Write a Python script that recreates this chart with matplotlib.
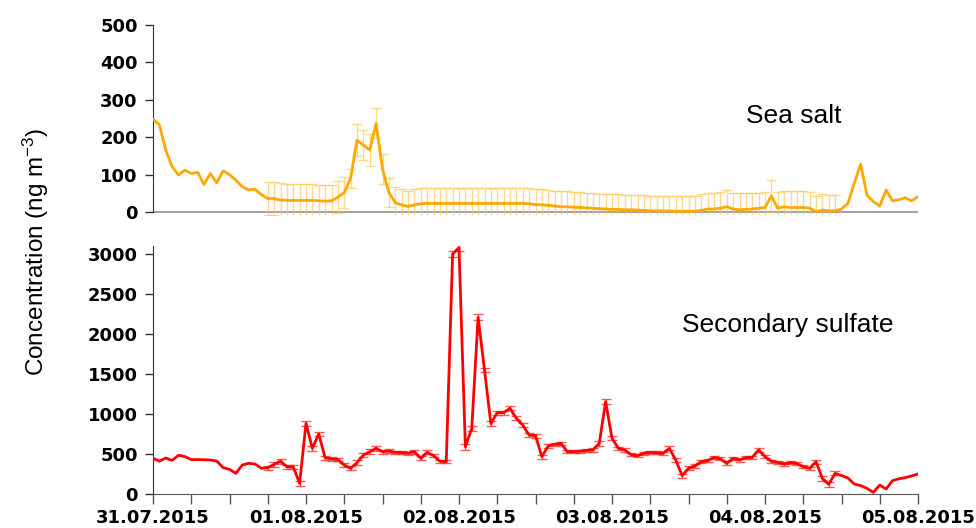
import matplotlib
matplotlib.use("Agg")
import matplotlib.pyplot as plt
import matplotlib.dates as mdates
import numpy as np
import pandas as pd

# hourly samples 31.07.2015 00:00 - 05.08.2015 00:00
startDate = "2015-07-31 00:00"
errStart = 18   # first hour with uncertainty values

# sea salt [ng m-3]
seaSalt = [248, 233, 166, 121, 99, 112, 103, 106, 74, 103,
           78, 110, 100, 85, 68, 59, 61, 46, 36, 36,
           32, 31, 31, 31, 31, 31, 30, 29, 30, 40,
           52, 90, 192, 179, 166, 237, 115, 52, 25, 19,
           15, 19, 22, 23, 23, 23, 23, 23, 23, 23,
           23, 23, 23, 23, 23, 23, 23, 23, 23, 22,
           20, 19, 18, 16, 14, 14, 13, 12, 11, 10,
           9, 8, 7, 7, 6, 6, 5, 4, 3, 3,
           3, 3, 2, 2, 2, 2, 4, 8, 8, 10,
           14, 8, 6, 7, 8, 10, 12, 43, 10, 14,
           12, 12, 12, 10, 1, 5, 3, 3, 8, 23,
           77, 128, 45, 28, 16, 59, 30, 33, 38, 30, 41]
seaSaltErr = [45, 45, 45, 44, 44, 44, 44, 44, 43, 43, 43, 42,
              42, 25, 42, 40, 42, 40, 40, 38, 42, 42,
              42, 42, 42, 42, 42, 42, 42, 42, 42, 42,
              42, 42, 42, 42, 42, 42, 42, 42, 42, 42,
              42, 42, 41, 41, 41, 41, 41, 41, 40, 40,
              40, 40, 40, 40, 40, 40, 40, 41, 41, 41,
              41, 41, 41, 42, 42, 42, 44, 44, 44, 44,
              44, 44, 44, 44, 42, 42, 42, 42, 43, 43,
              43, 43, 43, 43, 42, 42, 42, 42]

# secondary sulfate [ng m-3]
sulfate = [446, 410, 450, 420, 485, 467, 430, 430, 428, 425,
           412, 329, 308, 258, 362, 383, 375, 321, 329, 371,
           410, 340, 338, 133, 883, 571, 750, 454, 438, 430,
           362, 321, 392, 487, 529, 571, 529, 537, 521, 518,
           510, 529, 446, 521, 480, 410, 404, 3000, 3080, 590,
           820, 2210, 1550, 880, 1017, 1017, 1071, 946, 862, 737,
           729, 467, 600, 621, 633, 529, 529, 535, 545, 550,
           633, 1154, 696, 571, 550, 490, 479, 510, 521, 515,
           508, 571, 425, 229, 321, 350, 404, 417, 458, 440,
           383, 446, 425, 454, 458, 550, 467, 410, 395, 375,
           392, 380, 342, 321, 404, 196, 121, 258, 230, 200,
           125, 105, 70, 21, 112, 62, 167, 190, 205, 225, 250]
sulfateErr = [25, 30, 30, 25, 20, 30, 35, 30, 30, 25, 20, 20,
              25, 25, 30, 30, 30, 30, 25, 25, 20, 20,
              20, 25, 25, 25, 20, 20, 20, 40, 40, 35,
              35, 40, 30, 30, 25, 25, 25, 25, 30, 25,
              25, 25, 20, 20, 20, 20, 20, 20, 20, 25,
              30, 30, 25, 20, 20, 20, 20, 20, 20, 20,
              20, 25, 30, 25, 25, 20, 20, 20, 20, 20,
              25, 20, 20, 20, 20, 25, 20, 20, 20, 20,
              20, 20, 20, 20, 25, 30, 30, 25]

dayLabels = ["31.07.2015", "01.08.2015", "02.08.2015",
             "03.08.2015", "04.08.2015", "05.08.2015"]

tickFont = dict(family="DejaVu Sans", weight="bold", size=13)
textFont = dict(family="Liberation Sans", size=19)

plt.rcParams['mathtext.default'] = 'regular'

time = pd.date_range(startDate, periods=len(sulfate), freq="h")
days = pd.to_datetime(dayLabels, format="%d.%m.%Y")


def styleAxis(ax, ymax, ystep):
    ax.spines['top'].set_visible(False)
    ax.spines['right'].set_visible(False)
    ax.spines['left'].set_color('#333333')
    ax.spines['left'].set_bounds(0, ymax)
    ax.set_yticks(np.arange(0, ymax + 1, ystep))
    ax.tick_params(axis='y', direction='out', length=6, width=1,
                   color='#333333', pad=5)
    for lbl in ax.get_yticklabels():
        lbl.set_fontproperties(matplotlib.font_manager.FontProperties(**tickFont))
    ax.set_xlim(days[0], days[-1])


fig = plt.figure(figsize=(9.76, 5.28), dpi=100)
axTop = fig.add_axes([153 / 976, 1 - 215 / 528, 765 / 976, 190 / 528])
axBot = fig.add_axes([153 / 976, 1 - 494 / 528, 765 / 976, 248 / 528])

# --- sea salt
eT = time[errStart:errStart + len(seaSaltErr)]
axTop.errorbar(eT, seaSalt[errStart:errStart + len(seaSaltErr)], yerr=seaSaltErr,
               fmt='none', ecolor='#FFC34D', alpha=0.65, elinewidth=1,
               capsize=3.5, capthick=1, zorder=2)
axTop.plot(time, seaSalt, color='#FFA800', lw=2, zorder=3)
axTop.axhline(0, color='#9a9a9a', lw=1.3, zorder=1)
axTop.set_ylim(-8, 500)
styleAxis(axTop, 500, 100)
axTop.spines['bottom'].set_visible(False)
axTop.set_xticks([])
axTop.text(0.775, 0.484, "Sea salt", transform=axTop.transAxes,
           va='baseline', ha='left', **textFont)

# --- secondary sulfate
eT = time[errStart:errStart + len(sulfateErr)]
axBot.errorbar(eT, sulfate[errStart:errStart + len(sulfateErr)], yerr=sulfateErr,
               fmt='none', ecolor='#FF3030', alpha=0.8, elinewidth=1,
               capsize=3.5, capthick=1, zorder=2)
axBot.plot(time, sulfate, color='#FF0000', lw=2, zorder=3)
axBot.set_ylim(0, 3100)
styleAxis(axBot, 3100, 500)
axBot.spines['left'].set_bounds(0, 3100)
axBot.spines['bottom'].set_color('#555555')
axBot.set_xticks(days)
axBot.set_xticklabels(dayLabels)
axBot.xaxis.set_minor_locator(mdates.HourLocator(byhour=[6, 12, 18]))
axBot.tick_params(axis='x', which='both', direction='out', length=7,
                  width=1, color='#555555', pad=4)
for lbl in axBot.get_xticklabels():
    lbl.set_fontproperties(matplotlib.font_manager.FontProperties(**tickFont))
axBot.text(0.6915, 0.653, "Secondary sulfate", transform=axBot.transAxes,
           va='baseline', ha='left', **textFont)

fig.text(36 / 976, 1 - 252 / 528, "Concentration (ng m$^{-3}$)",
         rotation=90, ha='center', va='center', family="Liberation Sans", size=17.5)

fig.savefig("out.png", dpi=100)
